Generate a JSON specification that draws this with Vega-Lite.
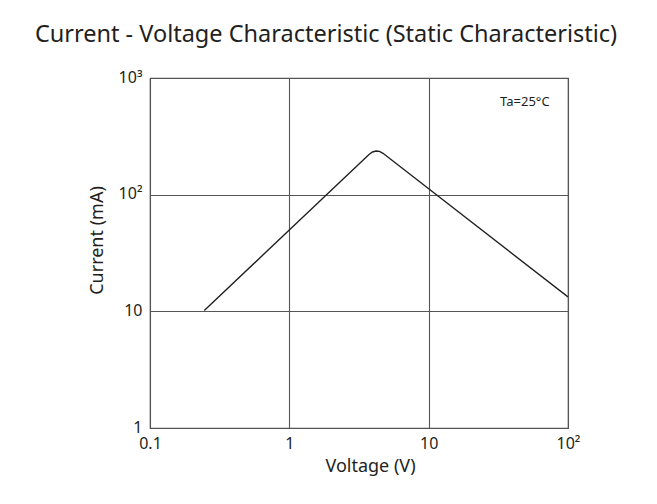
{
  "$schema": "https://vega.github.io/schema/vega-lite/v6.json",
  "width": 418,
  "height": 350,
  "autosize": {"type": "none"},
  "padding": {"left": 150, "top": 78, "right": 89, "bottom": 76},
  "background": "white",
  "title": {
    "text": "Current - Voltage Characteristic (Static Characteristic)",
    "font": "Noto Sans",
    "fontSize": 23.5,
    "fontWeight": "normal",
    "color": "#231f20",
    "anchor": "middle",
    "dx": -33,
    "offset": 23
  },
  "config": {
    "view": {"stroke": "#555555", "strokeWidth": 1.2},
    "axis": {
      "labelFont": "Noto Sans",
      "titleFont": "Noto Sans",
      "labelColor": "#231f20",
      "titleColor": "#231f20",
      "labelFontSize": 16,
      "titleFontSize": 18,
      "titleFontWeight": "normal",
      "gridColor": "#555555",
      "gridOpacity": 1,
      "gridWidth": 1.1,
      "domain": false,
      "ticks": false
    }
  },
  "datasets": {
    "curve": [
      {"voltage": 0.2453, "current": 10.17},
      {"voltage": 3.731, "current": 220.9},
      {"voltage": 3.953, "current": 232.1},
      {"voltage": 4.189, "current": 236.9},
      {"voltage": 4.438, "current": 234.9},
      {"voltage": 4.702, "current": 226.2},
      {"voltage": 100, "current": 13.27}
    ],
    "note": [
      {"voltage": 49, "current": 622, "label": "Ta=25°C"}
    ]
  },
  "layer": [
    {
      "data": {"name": "curve"},
      "mark": {"type": "line", "color": "#231f20", "strokeWidth": 1.4, "clip": true},
      "encoding": {
        "x": {
          "field": "voltage",
          "type": "quantitative",
          "scale": {"type": "log", "domain": [0.1, 100]},
          "axis": {
            "title": "Voltage (V)",
            "values": [0.1, 1, 10, 100],
            "labelExpr": "datum.value == 100 ? '10²' : datum.value == 0.1 ? '0.1' : format(datum.value, 'd')",
            "labelPadding": 7,
            "titlePadding": 6,
            "titleX": 220,
            "labelFlush": false
          }
        },
        "y": {
          "field": "current",
          "type": "quantitative",
          "scale": {"type": "log", "domain": [1, 1000]},
          "axis": {
            "title": "Current  (mA)",
            "values": [1, 10, 100, 1000],
            "labelExpr": "datum.value == 1000 ? '10³' : datum.value == 100 ? '10²' : format(datum.value, 'd')",
            "labelPadding": 8,
            "labelOffset": -1,
            "titlePadding": 12,
            "titleY": 162,
            "labelFlush": false
          }
        }
      }
    },
    {
      "data": {"name": "note"},
      "mark": {"type": "text", "font": "Noto Sans", "fontSize": 13, "color": "#231f20"},
      "encoding": {
        "x": {"field": "voltage", "type": "quantitative"},
        "y": {"field": "current", "type": "quantitative"},
        "text": {"field": "label"}
      }
    }
  ]
}
